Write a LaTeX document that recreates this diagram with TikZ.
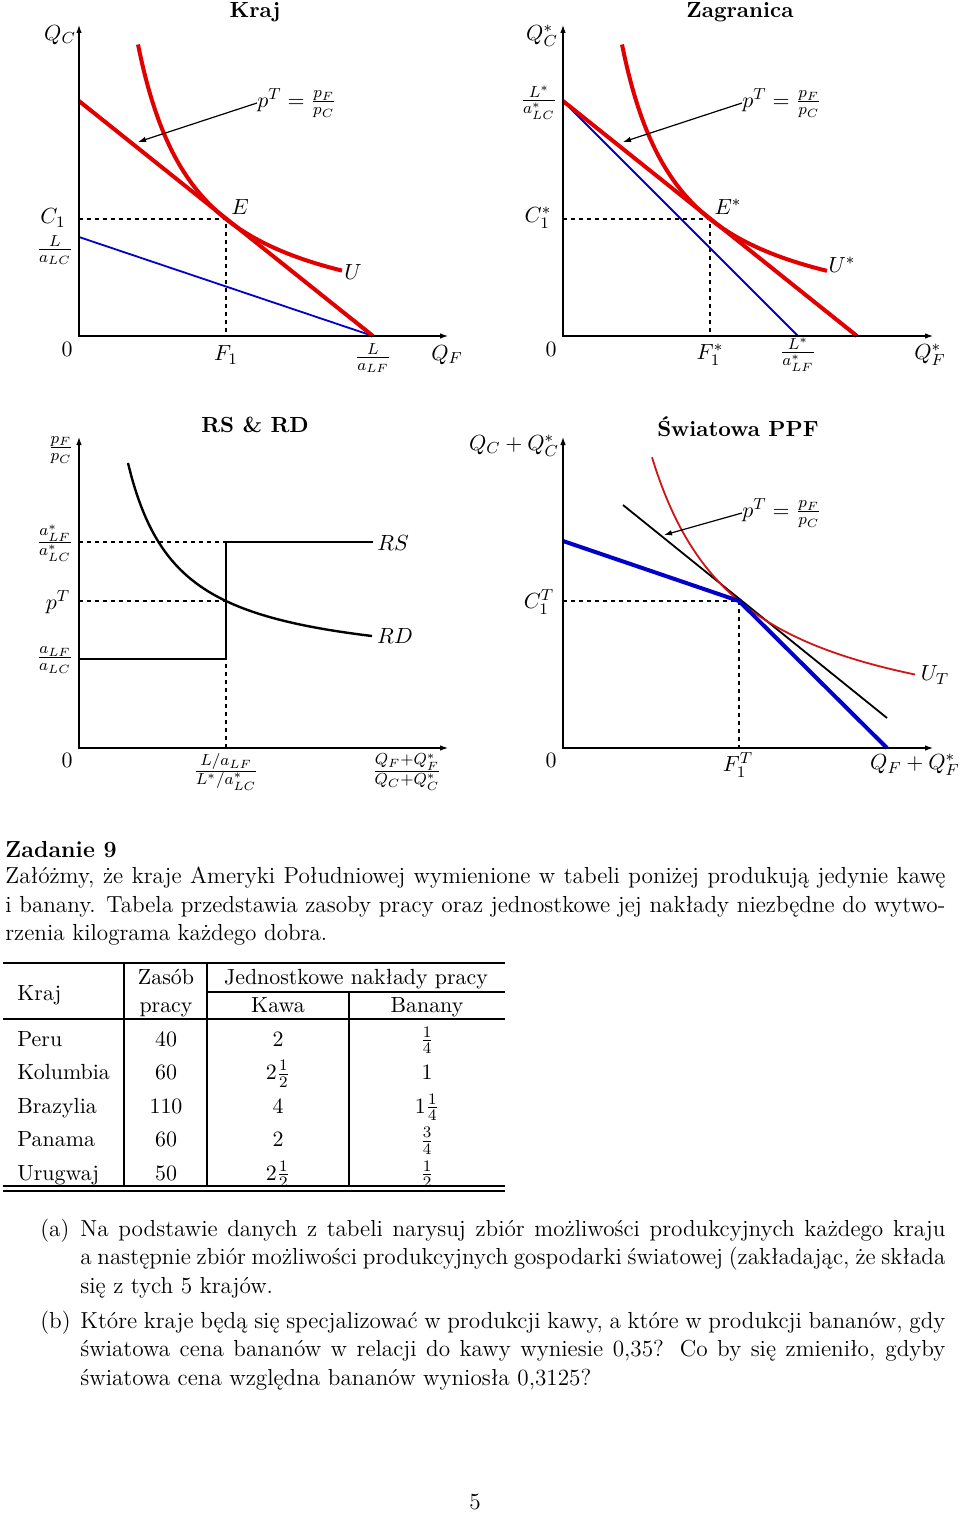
\documentclass[tikz,border=0pt]{standalone}
\usepackage{fontspec}
\usetikzlibrary{arrows.meta}
\definecolor{cred}{RGB}{225,0,0}
\definecolor{cblue}{RGB}{0,0,200}
\definecolor{cdred}{RGB}{210,20,20}
\begin{document}
\begin{tikzpicture}[x=0.5pt,y=-0.5pt,
  font=\fontsize{10.95}{13.6}\selectfont,
  lbl/.style={inner sep=0pt},
  axis/.style={line width=0.6pt,{Latex[length=4pt,width=2.8pt]}-{Latex[length=4pt,width=2.8pt]}},
  budget/.style={cred,line width=2pt},
  ucurve/.style={cred,line width=2pt},
  ppfthin/.style={cblue,line width=0.9pt},
  ppfthick/.style={cblue,line width=2pt},
  guide/.style={line width=0.6pt,dash pattern=on 2pt off 2pt},
  ptr/.style={line width=0.6pt,-{Latex[length=4pt,width=2.8pt]}},
  rsrd/.style={line width=1.2pt},
  ttl/.style={inner sep=0pt,font=\fontsize{10.95}{13.6}\selectfont\bfseries},
  txt/.style={anchor=base west,inner sep=0pt},
  body/.style={anchor=base west,inner sep=0pt,font=\fontsize{11.6}{14.2}\selectfont},
  cell/.style={anchor=base,inner sep=0pt},
  rule/.style={line width=0.6pt}]
\useasboundingbox (0,0) rectangle (960,1514);

% ---------------- Graph 1: Kraj ----------------
\node[ttl] (t1) at (255,12) {Kraj};
\begin{scope}[shift={(79,336)},yscale=-1]
  \draw[guide] (0,117) -| (147,0);
  \draw[ppfthin] (0,99) -- (294,0);
  \draw[budget] (0,235) -- (294,0);
  \draw[ucurve] plot[domain=59:263,samples=60,smooth] (\x,{171.99/\x*100});
  \draw[axis] (0,311) -- (0,0) -- (369,0);
\end{scope}
\node[lbl] (q1c) at (60,35) {$Q_C$};
\node[lbl] (z1) at (67,349) {$0$};
\node[lbl] (p1) at (297,103) {$p^T=\frac{p_F}{p_C}$};
\coordinate (p1end) at (138,142);
\draw[ptr] (p1.west) -- (p1end);
\node[lbl] (e1) at (240,207) {$E$};
\node[lbl] (c1) at (53,218) {$C_1$};
\node[lbl] (lc1) at (55,250) {$\frac{L}{a_{LC}}$};
\node[lbl] (u1) at (353,272) {$U$};
\node[lbl] (f1) at (226,355) {$F_1$};
\node[lbl] (lf1) at (373,358) {$\frac{L}{a_{LF}}$};
\node[lbl] (q1f) at (447,355) {$Q_F$};

% ---------------- Graph 2: Zagranica ----------------
\node[ttl] (t2) at (740,12) {Zagranica};
\begin{scope}[shift={(563,336)},yscale=-1]
  \draw[guide] (0,117) -| (147,0);
  \draw[ppfthin] (0,235) -- (235,0);
  \draw[budget] (0,235) -- (294,0);
  \draw[ucurve] plot[domain=59:264,samples=60,smooth] (\x,{171.99/\x*100});
  \draw[axis] (0,311) -- (0,0) -- (370,0);
\end{scope}
\node[lbl] (q2c) at (542,36) {$Q_C^*$};
\node[lbl] (lc2) at (539,103) {$\frac{L^*}{a^*_{LC}}$};
\node[lbl] (p2) at (782,103) {$p^T=\frac{p_F}{p_C}$};
\coordinate (p2end) at (623,142);
\draw[ptr] (p2.west) -- (p2end);
\node[lbl] (c2) at (538,218) {$C_1^*$};
\node[lbl] (e2) at (728,207) {$E^*$};
\node[lbl] (u2) at (842,265) {$U^*$};
\node[lbl] (z2) at (551,349) {$0$};
\node[lbl] (f2) at (710,355) {$F_1^*$};
\node[lbl] (lf2) at (798,355) {$\frac{L^*}{a^*_{LF}}$};
\node[lbl] (q2f) at (930,355) {$Q_F^*$};

% ---------------- Graph 3: RS & RD ----------------
\node[ttl] (t3) at (255,425) {RS \& RD};
\begin{scope}[shift={(79,748)},yscale=-1]
  \draw[guide] (0,206) -- (147,206);
  \draw[guide] (0,147) -- (147,147);
  \draw[guide] (147,0) -- (147,89);
  \draw[axis] (0,311) -- (0,0) -- (369,0);
  \draw[rsrd] (0,0) -- (0,89) -- (147,89) -- (147,206) -- (294,206);
  \draw[rsrd] plot[domain=49:293,samples=80,smooth] (\x,{76.5+104.37/(\x+1.06)*100});
\end{scope}
\node[lbl] (y3) at (61,450) {$\frac{p_F}{p_C}$};
\node[lbl] (as3) at (55,543) {$\frac{a^*_{LF}}{a^*_{LC}}$};
\node[lbl] (rs3) at (393,543) {$RS$};
\node[lbl] (pt3) at (58,602) {$p^T$};
\node[lbl] (rd3) at (395,636) {$RD$};
\node[lbl] (a3) at (55,660) {$\frac{a_{LF}}{a_{LC}}$};
\node[lbl] (z3) at (67,760) {$0$};
\node[lbl] (xm3) at (226,772) {$\frac{L/a_{LF}}{L^*/a^*_{LC}}$};
\node[lbl] (x3) at (407,772) {$\frac{Q_F+Q_F^*}{Q_C+Q_C^*}$};

% ---------------- Graph 4: Swiatowa PPF ----------------
\node[ttl] (t4) at (738,427) {Światowa PPF};
\begin{scope}[shift={(563,748)},yscale=-1]
  \draw[guide] (0,147) -| (176,0);
  \draw[line width=0.9pt] (60,243) -- (324,30);
  \draw[cdred,line width=0.9pt] plot[domain=89:352,samples=60,smooth] (\x,{258.72/\x*100});
  \draw[ppfthick] (0,207) -- (176,147) -- (324,0);
  \draw[axis] (0,311) -- (0,0) -- (370,0);
\end{scope}
\node[lbl] (y4) at (514,446) {$Q_C+Q_C^*$};
\node[lbl] (c4) at (539,602) {$C_1^T$};
\node[lbl] (p4) at (782,513) {$p^T=\frac{p_F}{p_C}$};
\coordinate (p4end) at (664,535);
\draw[ptr] (p4.west) -- (p4end);
\node[lbl] (u4) at (935,675) {$U_T$};
\node[lbl] (z4) at (551,760) {$0$};
\node[lbl] (f4) at (738,765) {$F_1^T$};
\node[lbl] (x4) at (915,765) {$Q_F+Q_F^*$};

% ---------------- Text ----------------
\node[body,font=\fontsize{11.6}{14.2}\selectfont\bfseries] (zad) at (5,857) {Zadanie 9};
\node[body] (pl1) at (5,883) {\makebox[470pt][s]{Załóżmy, że kraje Ameryki Południowej wymienione w tabeli poniżej produkują jedynie kawę}};
\node[body] (pl2) at (5,912) {\makebox[470pt][s]{i banany. Tabela przedstawia zasoby pracy oraz jednostkowe jej nakłady niezbędne do wytwo-}};
\node[body] (pl3) at (5,940) {rzenia kilograma każdego dobra.};

% ---------------- Table ----------------
\draw[rule] (3,963) -- (505,963);
\draw[rule] (207,992) -- (505,992);
\draw[rule] (3,1019) -- (505,1019);
\draw[rule] (3,1186) -- (505,1186);
\draw[rule] (3,1191) -- (505,1191);
\draw[rule] (124,963) -- (124,1186);
\draw[rule] (207,963) -- (207,1186);
\draw[rule] (349,992) -- (349,1186);
\node[txt] (hk) at (17,1000) {Kraj};
\node[cell] (hz1) at (166,984) {Zasób};
\node[cell] (hz2) at (166,1012) {pracy};
\node[cell] (hj) at (356,984) {Jednostkowe nakłady pracy};
\node[cell] (hkw) at (278,1012) {Kawa};
\node[cell] (hb) at (427,1012) {Banany};
\node[txt] (r1a) at (17,1046) {Peru};
\node[cell] (r1b) at (166,1046) {40};
\node[cell] (r1c) at (278,1046) {2};
\node[cell] (r1d) at (427,1046) {$\frac14$};
\node[txt] (r2a) at (17,1079.5) {Kolumbia};
\node[cell] (r2b) at (166,1079.5) {60};
\node[cell] (r2c) at (278,1079.5) {$2\frac12$};
\node[cell] (r2d) at (427,1079.5) {1};
\node[txt] (r3a) at (17,1113) {Brazylia};
\node[cell] (r3b) at (166,1113) {110};
\node[cell] (r3c) at (278,1113) {4};
\node[cell] (r3d) at (427,1113) {$1\frac14$};
\node[txt] (r4a) at (17,1146.5) {Panama};
\node[cell] (r4b) at (166,1146.5) {60};
\node[cell] (r4c) at (278,1146.5) {2};
\node[cell] (r4d) at (427,1146.5) {$\frac34$};
\node[txt] (r5a) at (17,1180) {Urugwaj};
\node[cell] (r5b) at (166,1180) {50};
\node[cell] (r5c) at (278,1180) {$2\frac12$};
\node[cell] (r5d) at (427,1180) {$\frac12$};

% ---------------- Items ----------------
\node[body] (ia) at (40,1236) {(a)};
\node[body] (ia1) at (80,1236) {\makebox[432.5pt][s]{Na podstawie danych z tabeli narysuj zbiór możliwości produkcyjnych każdego kraju}};
\node[body] (ia2) at (80,1264.5) {\makebox[432.5pt][s]{a następnie zbiór możliwości produkcyjnych gospodarki światowej (zakładając, że składa}};
\node[body] (ia3) at (80,1293) {się z tych 5 krajów.};
\node[body] (ib) at (40,1328) {(b)};
\node[body] (ib1) at (80,1328) {\makebox[432.5pt][s]{Które kraje będą się specjalizować w produkcji kawy, a które w produkcji bananów, gdy}};
\node[body] (ib2) at (80,1356.5) {\makebox[432.5pt][s]{światowa cena bananów w relacji do kawy wyniesie 0,35? Co by się zmieniło, gdyby}};
\node[body] (ib3) at (80,1385) {światowa cena względna bananów wyniosła 0,3125?};

\node[cell,font=\fontsize{11.6}{14.2}\selectfont] (pg) at (475,1509) {5};
\end{tikzpicture}
\end{document}
